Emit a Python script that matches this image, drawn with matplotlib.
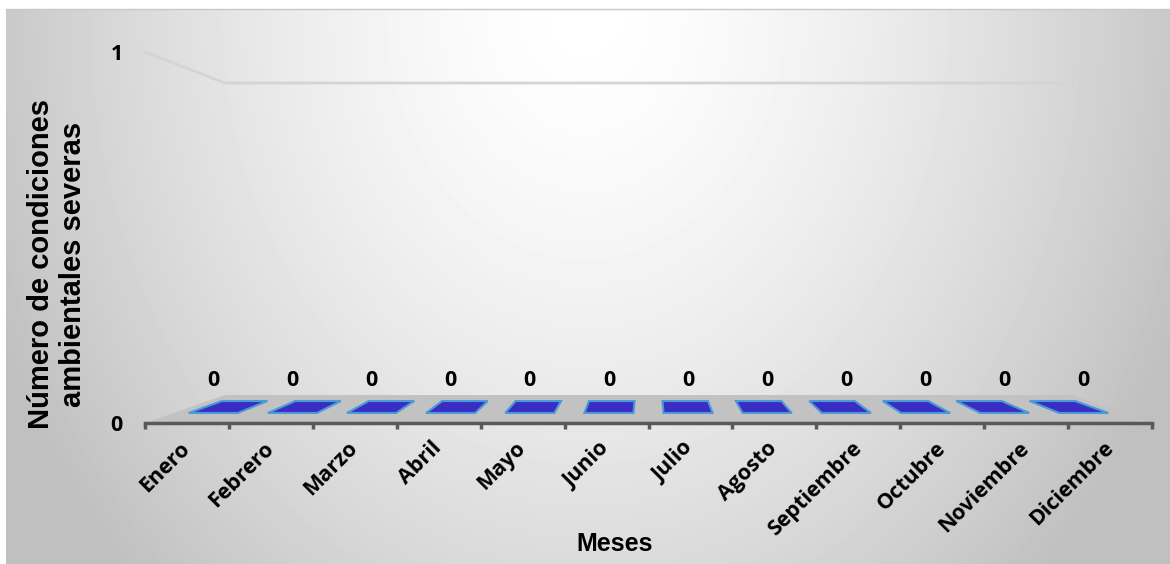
import numpy as np
import matplotlib.pyplot as plt
from matplotlib.patches import Polygon
from matplotlib.transforms import ScaledTranslation

# monthly counts of severe environmental conditions
meses = ['Enero', 'Febrero', 'Marzo', 'Abril', 'Mayo', 'Junio',
         'Julio', 'Agosto', 'Septiembre', 'Octubre', 'Noviembre', 'Diciembre']
valores = [0, 0, 0, 0, 0, 0, 0, 0, 0, 0, 0, 0]
y_ticks = [0, 1]

W, H, DPI = 1170, 564, 100

# pseudo-3D look: everything is projected towards a vanishing point
VX, VY = 6.0, 0.474
K_BACK = 0.841                # depth of the back wall
K_FRONT_BAR, K_BACK_BAR = 0.943, 0.875
BAR_W = 0.62


def proj(x, v, k):
    return VX + (x - VX) * k, VY + (v - VY) * k


fig = plt.figure(figsize=(W / DPI, H / DPI), dpi=DPI)

# background with a soft radial gradient
bg = fig.add_axes([6 / W, 0, 1 - 6 / W, 1 - 9 / H])
gx, gy = np.meshgrid(np.arange(W - 6), np.arange(H - 9))
r = np.sqrt(((gx - 579) / 600.0) ** 2 + (gy / 750.0) ** 2)
shade = np.clip(255 - 57 * r ** 1.5, 192, 255) / 255.0
bg.imshow(shade, cmap='gray', vmin=0, vmax=1, aspect='auto',
          interpolation='bilinear')
bg.set_xticks([])
bg.set_yticks([])
for side in ['left', 'right', 'bottom']:
    bg.spines[side].set_visible(False)
bg.spines['top'].set_color('#c8c8c8')
bg.spines['top'].set_linewidth(1)

ax = fig.add_axes([145 / W, (H - 423) / H, 1007 / W, 371 / H])
ax.patch.set_visible(False)
ax.set_xlim(0, len(meses))
ax.set_ylim(0, 1)
for side in ['left', 'right', 'top']:
    ax.spines[side].set_visible(False)
ax.spines['bottom'].set_color('#595959')
ax.spines['bottom'].set_linewidth(2.5)

n = len(meses)

# floor
floor = [proj(0, 0, 1), proj(n, 0, 1), proj(n, 0, K_BACK), proj(0, 0, K_BACK)]
ax.add_patch(Polygon(floor, closed=True, facecolor='#c2c2c2',
                     edgecolor='none', zorder=1, clip_on=False))

# gridlines on the side and back walls
for v in y_ticks[1:]:
    pts = [proj(0, v, 1), proj(0, v, K_BACK), proj(n, v, K_BACK)]
    ax.plot([p[0] for p in pts], [p[1] for p in pts], color='#d4d4d4',
            lw=2, zorder=0.5, clip_on=False)

face, edge = '#3a2dc3', '#4a9ad8'
for i, val in enumerate(valores):
    x0 = i + 0.5 - BAR_W / 2
    x1 = i + 0.5 + BAR_W / 2
    if val > 0:
        front = [proj(x0, 0, K_FRONT_BAR), proj(x1, 0, K_FRONT_BAR),
                 proj(x1, val, K_FRONT_BAR), proj(x0, val, K_FRONT_BAR)]
        xs = x1 if i + 0.5 < VX else x0
        side = [proj(xs, 0, K_FRONT_BAR), proj(xs, 0, K_BACK_BAR),
                proj(xs, val, K_BACK_BAR), proj(xs, val, K_FRONT_BAR)]
        for poly in (side, front):
            ax.add_patch(Polygon(poly, closed=True, facecolor=face,
                                 edgecolor=edge, lw=1.5, zorder=2))
    top = [proj(x0, val, K_FRONT_BAR), proj(x1, val, K_FRONT_BAR),
           proj(x1, val, K_BACK_BAR), proj(x0, val, K_BACK_BAR)]
    ax.add_patch(Polygon(top, closed=True, facecolor=face, edgecolor=edge,
                         lw=1.5, zorder=3, clip_on=False))
    ax.annotate(str(val), xy=proj(i + 0.5, val, K_FRONT_BAR),
                xytext=(0, 15.5), textcoords='offset points',
                ha='center', va='bottom', fontsize=15.5, fontweight='bold',
                family='Open Sans', color='black', zorder=4)

# month labels under the category centres, ticks on the boundaries
ax.set_xticks(np.arange(n) + 0.5)
ax.set_xticklabels(meses, rotation=45, ha='right', va='center',
                   rotation_mode='anchor', fontsize=15.5, fontweight='bold',
                   family='Open Sans')
shift = ScaledTranslation(3 / 72, 0, fig.dpi_scale_trans)
for lbl in ax.get_xticklabels():
    lbl.set_transform(lbl.get_transform() + shift)
ax.set_xticks(np.arange(n + 1), minor=True)
ax.tick_params(axis='x', which='major', length=0, pad=16)
ax.tick_params(axis='x', which='minor', length=4, width=2.5,
               color='#595959', direction='out')

ax.set_yticks(y_ticks)
ax.set_yticklabels([str(t) for t in y_ticks], fontsize=15.5,
                   fontweight='bold', family='Open Sans')
ax.tick_params(axis='y', length=0, pad=16)

ax.set_ylabel('Número de condiciones\nambientales severas', fontsize=21,
              fontweight='bold', family='Liberation Sans',
              linespacing=1.2)
ax.yaxis.label.set_verticalalignment('center')
ax.yaxis.set_label_coords(-0.0874, 0.4286)

ax.set_xlabel('Meses', fontsize=18, fontweight='bold',
              family='Liberation Sans')
ax.xaxis.label.set_verticalalignment('center')
ax.xaxis.set_label_coords(0.4667, -0.326)

fig.savefig('out.png', dpi=DPI)
